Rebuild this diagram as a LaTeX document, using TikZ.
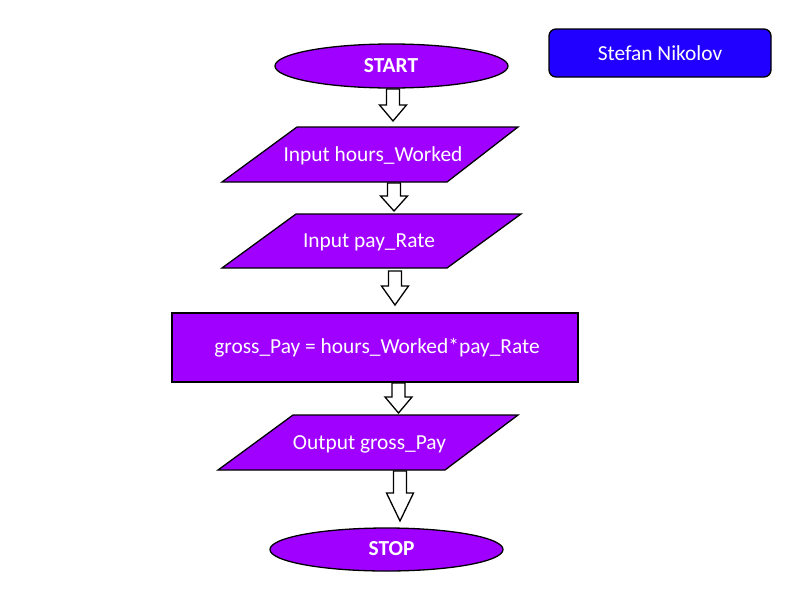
\documentclass[tikz,border=0pt]{standalone}
\usepackage{fontspec}
\setmainfont{Carlito}
\definecolor{vio}{RGB}{160,0,255}
\definecolor{nameblue}{RGB}{34,0,255}
\begin{document}
\begin{tikzpicture}[x=1pt,y=-1pt,
  shapebox/.style={draw=black,fill=vio,line width=1.3pt,line join=miter},
  lbl/.style={text=white,font=\fontsize{21.4}{25}\selectfont,inner sep=0pt},
  blbl/.style={lbl,font=\fontsize{21.4}{25}\selectfont\bfseries},
  blockarrow/.style={draw=black,fill=white,line width=1.3pt,line join=miter}]
\useasboundingbox (0,0) rectangle (800,600);
\fill[white] (0,0) rectangle (800,600);
\newcommand\barrow[4]{%
  \draw[blockarrow] (#1-6.5,#2) -- (#1+6.5,#2) -- (#1+6.5,#4) -- (#1+13.5,#4)
    -- (#1,#3) -- (#1-13.5,#4) -- (#1-6.5,#4) -- cycle;}
% START
\draw[shapebox] (391.5,66) ellipse [x radius=116.5, y radius=22];
\node[blbl] (start) at (391,66) {START};
% name box
\draw[draw=black,fill=nameblue,line width=1.3pt,rounded corners=7pt] (549,29) rectangle (771,77);
\node[lbl] (name) at (660,53) {Stefan Nikolov};
% input 1
\draw[shapebox] (297,127) -- (518,127) -- (447,182) -- (222,182) -- cycle;
\node[lbl] (in1) at (373,156) {Input hours\_Worked};
% input 2
\draw[shapebox] (296,214) -- (521,214) -- (447,268) -- (222,268) -- cycle;
\node[lbl] (in2) at (369,242) {Input pay\_Rate};
% process
\draw[shapebox] (172,313) rectangle (578,382);
\node[lbl] (proc) at (377,348) {gross\_Pay = hours\_Worked*pay\_Rate};
% output
\draw[shapebox] (293,415) -- (518,415) -- (445,470) -- (218,470) -- cycle;
\node[lbl] (out) at (369.5,444) {Output gross\_Pay};
% STOP
\draw[shapebox] (386.5,549.5) ellipse [x radius=116.5, y radius=21.5];
\node[blbl] (stop) at (391.5,549) {STOP};
% arrows
\barrow{393}{89}{121}{105}
\barrow{394}{183}{211}{196}
\barrow{395}{271}{305}{286}
\barrow{398.5}{383}{413}{397}
\barrow{400}{471}{521}{493}
\end{tikzpicture}
\end{document}
